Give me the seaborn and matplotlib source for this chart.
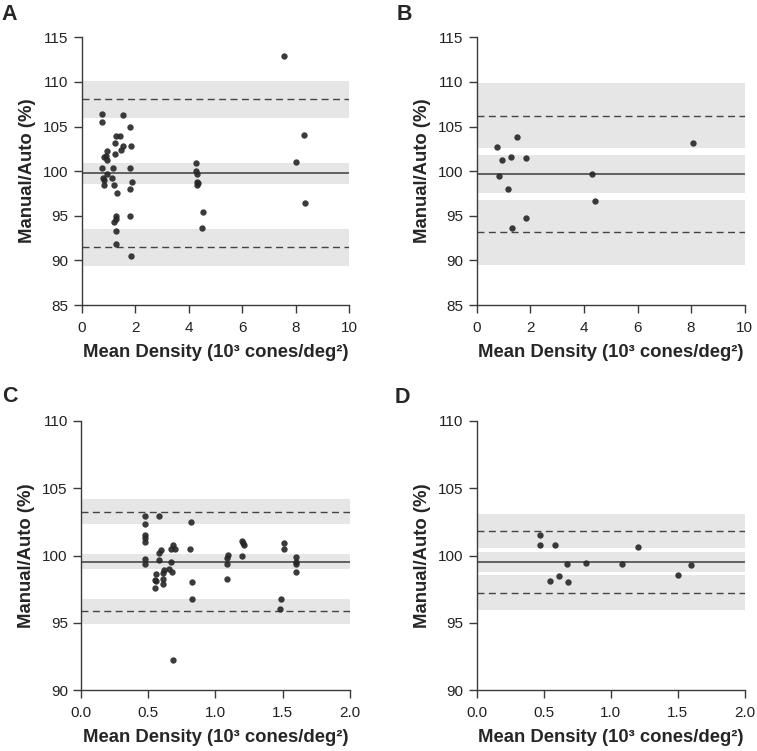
import matplotlib
matplotlib.use("Agg")
import matplotlib.pyplot as plt
import seaborn as sns
import pandas as pd

# panel A: ratio manual/auto vs mean density
a_density = [0.76, 0.77, 1.55, 1.82, 1.27, 1.45, 1.26, 1.53, 1.84, 1.47, 0.93, 0.82,
             0.90, 0.95, 1.26, 0.77, 1.17, 1.82, 0.93, 0.80, 0.83, 1.14, 1.90, 1.19,
             0.82, 1.81, 1.31, 1.30, 1.80, 1.30, 1.21, 1.29, 1.28, 1.86, 4.26, 4.26,
             4.30, 4.32, 4.30, 4.34, 4.55, 4.51, 7.56, 8.32, 8.03, 8.34]
a_ratio = [106.4, 105.5, 106.3, 105.0, 103.9, 103.9, 103.2, 102.85, 102.8, 102.4, 102.3, 101.6,
           101.7, 101.2, 101.9, 100.3, 100.3, 100.3, 99.7, 99.2, 99.0, 99.2, 98.8, 98.5,
           98.4, 98.0, 97.6, 95.0, 95.0, 94.6, 94.3, 93.3, 91.8, 90.45, 100.94, 100.0,
           99.67, 98.8, 98.5, 98.65, 95.4, 93.62, 112.9, 104.1, 101.0, 96.4]

# panel B
b_density = [0.77, 0.85, 0.95, 1.17, 1.28, 1.31, 1.50, 1.84, 1.84, 4.30, 4.43, 8.06]
b_ratio = [102.75, 99.5, 101.25, 98.0, 101.6, 93.6, 103.8, 101.5, 94.75, 99.65, 96.7, 103.2]

# panel C
c_density = [0.474, 0.474, 0.474, 0.474, 0.474, 0.48, 0.478, 0.583, 0.819, 0.596, 0.583,
             0.683, 0.67, 0.70, 0.814, 0.583, 0.673, 0.558, 0.62, 0.613, 0.658, 0.675,
             0.549, 0.558, 0.613, 0.608, 0.551, 0.824, 0.824, 0.685,
             1.092, 1.085, 1.085, 1.09, 1.201, 1.206, 1.211, 1.199, 1.512, 1.514,
             1.489, 1.48, 1.601, 1.601, 1.600, 1.599]
c_ratio = [102.93, 102.33, 101.56, 101.29, 101.02, 99.78, 99.36, 102.93, 102.52, 100.42, 100.22,
           100.77, 100.5, 100.5, 100.48, 99.68, 99.51, 98.62, 98.9, 98.7, 98.99, 98.81,
           98.2, 98.1, 98.29, 97.9, 97.62, 98.07, 96.76, 92.26,
           100.05, 99.85, 99.36, 98.27, 101.09, 100.92, 100.79, 99.98, 100.97, 100.47,
           96.76, 96.02, 99.9, 99.55, 99.36, 98.77]

# panel D
d_density = [0.475, 0.475, 0.584, 1.206, 0.672, 0.818, 1.087, 1.6, 1.5, 0.549, 0.612, 0.679]
d_ratio = [101.56, 100.77, 100.82, 100.67, 99.41, 99.44, 99.38, 99.33, 98.54, 98.14, 98.47, 98.07]

# mean bias, limits of agreement and their confidence bands
means = [99.76, 99.7, 99.55, 99.53]
loa_upper = [108.05, 106.2, 103.24, 101.86]
loa_lower = [91.5, 93.2, 95.9, 97.25]
ci_upper = [(105.92, 110.14), (102.6, 109.85), (102.33, 104.19), (100.55, 103.1)]
ci_mean = [(98.56, 100.9), (97.6, 101.78), (99.01, 100.1), (98.79, 100.27)]
ci_lower = [(89.37, 93.56), (89.5, 96.77), (94.93, 96.79), (95.97, 98.54)]

panels = ["A", "B", "C", "D"]
xlims = [(0, 10), (0, 10), (0, 2), (0, 2)]
ylims = [(85, 115), (85, 115), (90, 110), (90, 110)]
xticks = [[0, 2, 4, 6, 8, 10], [0, 2, 4, 6, 8, 10],
          [0.0, 0.5, 1.0, 1.5, 2.0], [0.0, 0.5, 1.0, 1.5, 2.0]]
xticklabels = [["0", "2", "4", "6", "8", "10"], ["0", "2", "4", "6", "8", "10"],
               ["0.0", "0.5", "1.0", "1.5", "2.0"], ["0.0", "0.5", "1.0", "1.5", "2.0"]]

sns.set_style("ticks")
plt.rcParams["font.family"] = ["Liberation Sans", "DejaVu Sans"]

data = [(a_density, a_ratio), (b_density, b_ratio), (c_density, c_ratio), (d_density, d_ratio)]

W, H = 757, 751
fig = plt.figure(figsize=(W / 100, H / 100), dpi=100)
# axes boxes in pixels: left, top, right, bottom
boxes = [(81.7, 37.3, 349, 305), (476.7, 37.3, 744.7, 305),
         (81.0, 421, 349.7, 690.3), (476.7, 421, 744.7, 690.3)]
letter_pos = [(1, 20), (397, 20), (2, 402), (395, 403)]

axis_col = "#3a3a3a"
for i, (dens, ratio) in enumerate(data):
    l, t, r, b = boxes[i]
    ax = fig.add_axes([l / W, 1 - b / H, (r - l) / W, (b - t) / H])
    df = pd.DataFrame({"density": dens, "ratio": ratio})

    for lo, hi in (ci_upper[i], ci_mean[i], ci_lower[i]):
        ax.axhspan(lo, hi, color="#e6e6e6", lw=0, zorder=0)
    ax.axhline(means[i], color="#555555", lw=1.3, zorder=1)
    for v in (loa_upper[i], loa_lower[i]):
        ax.axhline(v, color="#444444", lw=1.0, ls=(0, (5, 3.2)), zorder=1)

    sns.scatterplot(data=df, x="density", y="ratio", ax=ax, color="#262626",
                    s=21, linewidth=0, alpha=0.9, zorder=3)

    ax.set_xlim(*xlims[i])
    ax.set_ylim(*ylims[i])
    ax.set_xticks(xticks[i])
    ax.set_xticklabels(xticklabels[i])
    lo_y, hi_y = ylims[i]
    ax.set_yticks(list(range(lo_y, hi_y + 1, 5)))
    sns.despine(ax=ax)
    for sp in ("left", "bottom"):
        ax.spines[sp].set_color(axis_col)
        ax.spines[sp].set_linewidth(1.0)
    ax.tick_params(axis="both", labelsize=11, color=axis_col, length=5.5, width=1.0,
                   labelcolor="#222222")
    ax.tick_params(axis="x", pad=6)
    ax.tick_params(axis="y", pad=4)
    ax.set_xlabel("Mean Density (10³ cones/deg²)", fontsize=13.3, fontweight="bold")
    ax.set_ylabel("Manual/Auto (%)", fontsize=13.3, fontweight="bold")
    ax.xaxis.set_label_coords(0.5, -0.145)
    ax.yaxis.set_label_coords(-0.172, 0.5)

    fig.text(letter_pos[i][0] / W, 1 - letter_pos[i][1] / H, panels[i],
             fontsize=15.5, fontweight="bold", ha="left", va="baseline")

fig.savefig("out.png", dpi=100)
